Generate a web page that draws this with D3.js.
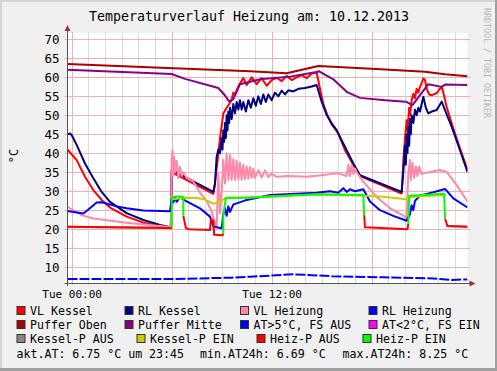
<!DOCTYPE html>
<html>
<head>
<meta charset="utf-8">
<script src="https://cdnjs.cloudflare.com/ajax/libs/d3/7.8.5/d3.min.js"></script>
<style>
body { margin: 0; background: #f0f0f0; }
text { font-family: "DejaVu Sans Mono", monospace; }
</style>
</head>
<body>
<svg id="chart" width="497" height="371"></svg>
<script>
// time in hours (0 = Tue 00:00), values in °C
var titleText = 'Temperaturverlauf Heizung am: 10.12.2013';
var yTicks = [10, 15, 20, 25, 30, 35, 40, 45, 50, 55, 60, 65, 70];
var xTicks = [0, 12];
var xTickLabels = ['Tue 00:00', 'Tue 12:00'];

var vlKessel = [[-0.25,41.0],[0.3,38.2],[0.8,33.8],[1.3,30.3],[1.8,27.7],[2.3,25.7],[3.3,23.3],[4.3,21.7],[5.3,20.8],[5.95,20.2],
  [6.0,35.0],[6.3,34.3],[8.5,29.3],[8.55,30.5],[8.7,36],[8.9,44],[9.1,50.5],[9.3,52],[9.45,53],[9.6,54],[9.7,56],[9.8,55.5],[10.0,57.6],
  [10.1,58.4],[10.3,59.8],[10.5,58.0],[10.8,60.0],[11.1,58.2],[11.4,59.8],[11.7,57.8],[12.0,59.3],[12.3,59.9],[12.6,59.0],[12.9,60.4],
  [13.2,59.3],[13.5,60.0],[13.8,60.6],[14.1,59.8],[14.4,61.0],[14.7,61.3],[14.9,57],[15.1,53],[15.3,50.5],[15.6,47.6],[16.0,45.2],
  [16.4,40.8],[16.9,37.0],[17.3,34.0],[19.8,29.4],[19.9,38],[20.0,44],[20.1,48.7],[20.15,46],[20.25,52],[20.3,50],[20.4,54],[20.5,55.7],
  [20.6,54.5],[20.7,57],[20.8,56],[20.9,57.5],[21.0,58.5],[21.1,59.7],[21.2,59.3],[21.3,57],[21.45,55.5],[21.6,55.3],[21.75,55.6],
  [21.9,55.8],[22.05,56.8],[22.2,57.5],[22.3,56],[22.5,52.2],[22.9,46.5],[23.3,41.3],[23.75,35.6]];

var rlKessel = [[-0.25,45.0],[-0.1,45.2],[0.0,44.8],[0.3,42.2],[0.8,37.3],[1.3,33.4],[1.8,29.8],[2.3,27.2],[3.3,24.2],[4.3,22.4],[5.3,21.1],[5.95,20.5],
  [6.0,35.6],[6.3,34.9],[8.5,29.8],[8.6,32],[8.7,39.1],[8.8,41],[8.9,40],[9.0,44],[9.05,41],[9.1,46],[9.15,43],[9.2,48],[9.25,44],[9.3,50],
  [9.35,46],[9.4,51],[9.45,48],[9.5,52],[9.6,49],[9.7,53],[9.8,50.5],[9.9,53.5],[10.0,51.5],[10.1,54],[10.2,51.5],[10.3,53.5],[10.45,51],
  [10.6,54],[10.75,52],[10.9,54.5],[11.05,52.5],[11.2,55],[11.35,53],[11.5,55.5],[11.65,53.5],[11.8,55.5],[12.0,54],[12.2,56],[12.4,55],
  [12.6,56.5],[12.8,55.5],[13.0,56.6],[13.3,56.3],[13.6,57],[14.0,57.2],[14.4,57.6],[14.7,58.0],[15.0,53.6],[15.3,50.1],[15.6,47.9],
  [15.9,46.1],[16.1,44.3],[16.5,40.8],[16.9,37.3],[17.3,34.2],[19.8,29.8],[19.9,35],[20.0,42],[20.05,37],[20.1,45],[20.15,40],[20.2,47],
  [20.25,42],[20.3,49],[20.35,45],[20.4,50],[20.5,48],[20.6,51.5],[20.7,50],[20.8,52],[20.9,51],[21.0,53],[21.1,54.9],[21.25,52],
  [21.4,50.5],[21.6,51],[21.9,51.4],[22.2,53.6],[22.3,52.5],[22.4,51.4],[22.8,47.0],[23.3,40.8],[23.75,35.1]];

var vlHeizung = [[-0.25,25.9],[0.6,23.7],[1.3,22.8],[3.3,21.7],[5.3,20.8],[5.95,20.5],[6.0,38],[6.05,40.8],[6.1,34],[6.15,39],[6.2,35],
  [6.3,38],[6.4,33.5],[6.5,36.5],[6.6,34],[6.7,35],[6.9,33.5],[7.3,32.5],[7.8,29],[8.1,27.5],[8.4,24.6],[8.6,21.5],[8.7,20.5],[8.8,34.8],
  [8.9,24.2],[9.0,30],[9.1,38.2],[9.2,32],[9.3,40],[9.4,33],[9.5,39.5],[9.6,33],[9.7,38.5],[9.8,33],[9.9,38],[10.0,33],[10.1,37.5],
  [10.2,33],[10.3,37],[10.4,33.2],[10.5,36.5],[10.6,33.3],[10.7,36.4],[10.8,33.5],[10.9,36],[11.0,33.5],[11.2,35.5],[11.4,33.6],[11.6,35.5],
  [11.8,33.7],[12.0,34.6],[12.3,33.8],[13.0,34.0],[14.1,33.8],[15.0,34.2],[15.5,34.5],[16.0,34.7],[16.5,34.0],[16.6,37],[16.7,34],
  [16.8,36.9],[16.9,34.5],[17.0,36],[17.1,35],[17.5,32.5],[18.3,28.5],[19.1,25.5],[20.0,23.3],[20.1,22.8],[20.2,35],[20.3,38.2],
  [20.35,33],[20.45,37.5],[20.55,33.5],[20.65,36.5],[20.75,34],[20.85,36.5],[21.0,34.5],[21.1,34.7],[22.1,35.6],[22.5,35.1],[23.1,31.6],[23.75,27.3]];

var rlHeizung = [[-0.25,24.8],[0.7,24.1],[1.0,25.2],[1.5,27.0],[1.8,27.1],[2.7,26.0],[3.3,25.5],[4.3,24.9],[5.9,24.7],[6.0,28.0],[6.1,27],
  [6.2,28.5],[6.3,27.2],[6.5,28.4],[6.7,27.8],[7.7,25.5],[8.3,23.3],[8.5,20.7],[9.0,20.2],[9.1,24],[9.2,25.5],[9.3,23.5],[9.4,26],
  [9.5,24.5],[9.7,26.5],[9.9,26.8],[10.5,27.7],[11.9,29.0],[14.7,29.6],[15.5,30.0],[16.0,29.6],[16.3,30.8],[16.5,29.8],[16.7,30.5],
  [17.0,30.0],[17.5,30.5],[17.9,27.3],[18.5,25.0],[19.3,23.5],[20.1,22.2],[20.3,24],[20.4,26.3],[20.5,25],[20.6,27.5],[20.9,28.8],
  [21.7,29.7],[22.4,30.6],[22.9,28.1],[23.75,25.7]];

var pufferOben = [[-0.25,63.5],[5.0,62.6],[10.7,61.6],[12.9,61.1],[14.8,63.0],[18.0,62.3],[21.2,61.5],[22.4,60.8],[23.75,60.3]];

var pufferMitte = [[-0.25,62.0],[6.0,60.9],[6.8,59.6],[8.8,57.2],[9.15,55.5],[9.45,53.7],[9.7,54.3],[10.1,58.2],[11.3,59.5],[13.1,60.2],
  [14.7,61.4],[14.85,61.6],[15.7,59.5],[16.5,56.2],[17.3,54.6],[18.8,54.0],[20.05,53.6],[20.45,52.7],[21.4,58.2],[22.2,57.5],[22.4,58.1],[23.75,58.0]];

var atAus = [[-0.25,6.85],[5.9,6.85],[9.6,7.2],[10.7,7.45],[13.3,8.1],[15.6,7.6],[18.7,7.3],[21.7,7.0],[22.8,6.6],[23.75,6.75]];
var atEin = [];

// pump states, null = break
var kesselPAus = [[-0.25,20.6],[5.95,20.3],[6.0,null],[22.55,20.8],[23.75,20.6]];
var kesselPEin = [[6.0,27.8],[6.7,28.3],[7.5,28.2],[8.0,27.8],[8.5,26.7],[9.0,27.5],[9.3,28.3],[10.5,28.4],[14.7,29.1],[17.5,28.8],
  [18.5,28.6],[20.1,27.9],[20.3,28.5],[22.4,29.0]];
var heizPAus = [[-0.25,20.6],[5.95,20.3],[6.0,20.5],[6.0,null],[6.7,23.5],[6.85,20.3],[7.0,20.0],[8.3,19.8],[8.35,22.5],[8.5,22.3],
  [8.55,18.5],[9.05,18.4],[9.1,18.8],[9.1,null],[17.55,23.7],[17.6,20.5],[20.15,20.0],[20.2,21.5],[20.2,null],[22.4,22.8],[22.55,20.8],[23.75,20.6]];
var heizPEin = [[6.0,20.5],[6.0,28.1],[6.2,28.6],[6.6,28.6],[6.7,28.4],[6.7,23.5],[6.7,null],[9.1,18.8],[9.1,23.7],[9.25,28.2],
  [10.7,28.3],[14.7,29.2],[17.5,29.0],[17.55,23.7],[17.55,null],[20.2,21.5],[20.25,28.8],[22.35,29.3],[22.4,22.8]];

var legendNames = ['VL Kessel','RL Kessel','VL Heizung','RL Heizung','Puffer Oben','Puffer Mitte','AT>5°C, FS AUS','AT<2°C, FS EIN',
  'Kessel-P AUS','Kessel-P EIN','Heiz-P AUS','Heiz-P EIN'];
var legendColors = ['#ff0000','#000080','#ff88aa','#0000ff','#aa0000','#880088','#0000ff','#ff00ff','#888888','#cccc00','#ff0000','#00ff00'];
var footerTexts = ['akt.AT: 6.75 °C um 23:45', 'min.AT24h: 6.69 °C', 'max.AT24h: 8.25 °C'];

var W = 497, H = 371;
var pL = 67.5, pR = 467.5, pT = 33, pB = 283;

var svg = d3.select('#chart');

svg.append('rect').attr('width', W).attr('height', H).attr('fill', '#f0f0f0');
svg.append('rect').attr('x', 0).attr('y', 0).attr('width', W).attr('height', 2).attr('fill', '#d4d4d4');
svg.append('rect').attr('x', 0).attr('y', 0).attr('width', 2).attr('height', H).attr('fill', '#d4d4d4');
svg.append('rect').attr('x', 0).attr('y', H - 3).attr('width', W).attr('height', 3).attr('fill', '#a0a0a0');
svg.append('rect').attr('x', W - 2).attr('y', 0).attr('width', 2).attr('height', H).attr('fill', '#a0a0a0');

var x = d3.scaleLinear().domain([-0.25, 23.75]).range([pL, pR]);
var y = d3.scaleLinear().domain([5.8, 71.7]).range([pB, pT]);

svg.append('rect').attr('x', pL).attr('y', pT).attr('width', pR - pL).attr('height', pB - pT).attr('fill', '#fff');

// grid
var hours = d3.range(0, 24);
svg.append('g').selectAll('line').data(hours.filter(function(h){ return h % 6 != 0; }))
  .enter().append('line')
  .attr('x1', function(d){ return Math.round(x(d)) + 0.5; }).attr('x2', function(d){ return Math.round(x(d)) + 0.5; })
  .attr('y1', pT - 1).attr('y2', pB + 2)
  .attr('stroke', '#dcdcdc').attr('stroke-width', 1);
svg.append('g').selectAll('line').data(hours.filter(function(h){ return h % 6 == 0; }))
  .enter().append('line')
  .attr('x1', function(d){ return Math.round(x(d)) + 0.5; }).attr('x2', function(d){ return Math.round(x(d)) + 0.5; })
  .attr('y1', pT - 1).attr('y2', pB + 2)
  .attr('stroke', '#f0b0b0').attr('stroke-width', 1);
svg.append('g').selectAll('line').data(yTicks)
  .enter().append('line')
  .attr('x1', pL - 3).attr('x2', pR + 3)
  .attr('y1', function(d){ return Math.round(y(d)) + 0.5; }).attr('y2', function(d){ return Math.round(y(d)) + 0.5; })
  .attr('stroke', '#f0b0b0').attr('stroke-width', 1);

// axes labels
var gy = svg.append('g').attr('transform', 'translate(' + pL + ',0)')
  .call(d3.axisLeft(y).tickValues(yTicks).tickSize(0).tickPadding(8));
gy.select('.domain').remove();
gy.selectAll('text').attr('font-family', '"DejaVu Sans Mono", monospace').attr('font-size', 12.5).attr('fill', '#000');

var gx = svg.append('g').attr('transform', 'translate(0,' + pB + ')')
  .call(d3.axisBottom(x).tickValues(xTicks).tickSize(0).tickPadding(7.5)
    .tickFormat(function(d, i){ return xTickLabels[i]; }));
gx.select('.domain').remove();
gx.selectAll('text').attr('font-family', '"DejaVu Sans Mono", monospace').attr('font-size', 11).attr('fill', '#000');

// series
svg.append('clipPath').attr('id', 'clip').append('rect')
  .attr('x', pL).attr('y', pT).attr('width', pR - pL).attr('height', pB - pT);
var plot = svg.append('g').attr('clip-path', 'url(#clip)');

var line = d3.line()
  .defined(function(d){ return d[1] != null; })
  .x(function(d){ return x(d[0]); })
  .y(function(d){ return y(d[1]); });

var series = [
  [vlKessel, '#ff0000'], [rlKessel, '#000080'], [vlHeizung, '#ff88aa'], [rlHeizung, '#0000ff'],
  [pufferOben, '#aa0000'], [pufferMitte, '#880088'], [atAus, '#0000ff'], [atEin, '#ff00ff'],
  [kesselPAus, '#888888'], [kesselPEin, '#cccc00'], [heizPAus, '#ff0000'], [heizPEin, '#00ff00']
];
series.forEach(function(s, i){
  if (!s[0].length) return;
  plot.append('path')
    .datum(s[0])
    .attr('fill', 'none')
    .attr('stroke', s[1])
    .attr('stroke-width', 2)
    .attr('stroke-linejoin', 'round')
    .attr('stroke-dasharray', i == 6 ? '10,2' : null)
    .attr('d', line);
});

// axis lines + arrows
svg.append('line').attr('x1', pL).attr('x2', pL).attr('y1', pB + 3).attr('y2', pT - 5)
  .attr('stroke', '#555').attr('stroke-width', 1);
svg.append('line').attr('x1', pL - 3).attr('x2', pR + 4).attr('y1', pB + 0.5).attr('y2', pB + 0.5)
  .attr('stroke', '#555').attr('stroke-width', 1);
svg.append('path').attr('d', 'M' + (pL - 3) + ',' + (pT - 2) + 'L' + pL + ',' + (pT - 8) + 'L' + (pL + 3) + ',' + (pT - 2) + 'Z')
  .attr('fill', '#a03030');
svg.append('path').attr('d', 'M' + (pR + 2) + ',' + (pB - 2.5) + 'L' + (pR + 8) + ',' + (pB + 0.5) + 'L' + (pR + 2) + ',' + (pB + 3.5) + 'Z')
  .attr('fill', '#a03030');

// title & labels
svg.append('text').attr('x', 249).attr('y', 21).attr('text-anchor', 'middle')
  .attr('font-size', 13.3).attr('fill', '#000').text(titleText);
svg.append('text').attr('transform', 'translate(18,156) rotate(-90)').attr('text-anchor', 'middle')
  .attr('font-size', 12).attr('fill', '#000').text('°C');
svg.append('text').attr('transform', 'translate(484,8) rotate(90)')
  .attr('font-size', 8.3).attr('fill', '#b8b8b8').text('RRDTOOL / TOBI OETIKER');

// legend
var legendX = [[16.5, 124.5, 240, 368.5], [16.5, 124.5, 240, 368.5], [16.5, 136.5, 256.5, 362.5]];
var legendY = [311, 325, 339];
var lg = svg.append('g');
legendNames.forEach(function(name, i){
  var r = Math.floor(i / 4), c = i % 4;
  var bx = legendX[r][c], by = legendY[r];
  lg.append('rect').attr('x', bx + 0.5).attr('y', by - 4.5).attr('width', 8).attr('height', 8)
    .attr('fill', legendColors[i]).attr('stroke', '#333').attr('stroke-width', 1);
  lg.append('text').attr('x', bx + 13.5).attr('y', by + 4)
    .attr('font-size', 11.6).attr('fill', '#000').text(name);
});
var footerX = [16.5, 200, 342.5];
footerTexts.forEach(function(t, i){
  lg.append('text').attr('x', footerX[i]).attr('y', 357.5)
    .attr('font-size', 11.6).attr('fill', '#000').text(t);
});
</script>
</body>
</html>
